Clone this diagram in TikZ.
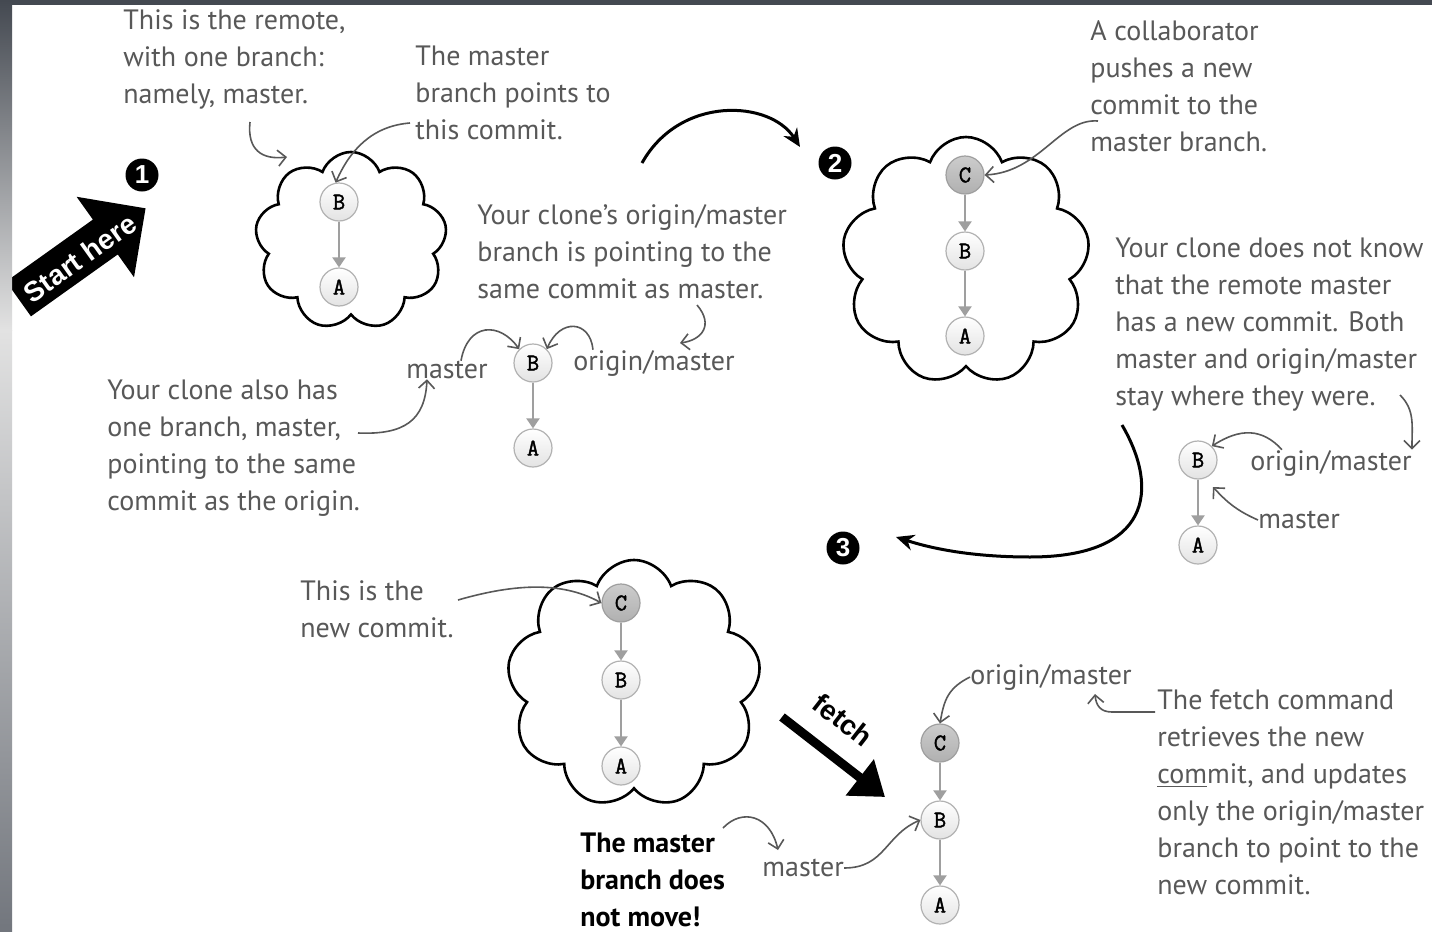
\documentclass[tikz,border=0pt]{standalone}
\usepackage{fontspec}
\setmainfont{PT Sans}
\newfontfamily\arrowfont{Liberation Sans}
\newfontfamily\commitfont{Latin Modern Mono}[FakeBold=1.6]
\usetikzlibrary{arrows.meta,shapes.symbols,shapes.arrows}

\definecolor{inkgray}{HTML}{585858}
\definecolor{framedark}{HTML}{444951}
\definecolor{framelight}{HTML}{E2E2E2}
\definecolor{framemid}{HTML}{72767D}

\begin{document}
\begin{tikzpicture}[x=0.5pt,y=0.5pt,
  note/.style={align=left, anchor=west, text=inkgray, inner sep=0pt, font=\fontsize{14}{18.5}\selectfont},
  branchname/.style={anchor=west, text=inkgray, inner sep=0pt, font=\fontsize{14}{18.5}\selectfont},
  commit/.style={circle, draw=gray!60, line width=0.6pt, top color=white, bottom color=gray!22, minimum size=19pt, inner sep=0pt, font=\commitfont\bfseries\fontsize{12}{12}\selectfont},
  newcommit/.style={commit, top color=gray!40, bottom color=gray!62, draw=gray!75},
  parent/.style={draw=gray!75, line width=1pt, -{Triangle[length=5pt,width=6.5pt]}},
  pointer/.style={draw=inkgray, line width=0.8pt, -{Straight Barb[length=4pt,width=8pt]}},
  bigcurve/.style={draw=black, line width=1.5pt, -{Stealth[length=9pt,width=8pt]}},
  badge/.style={circle, fill=black, text=white, inner sep=0pt, minimum size=16.5pt, font=\arrowfont\bfseries\fontsize{13}{13}\selectfont},
  remote/.style={cloud, draw=black, line width=1.3pt, cloud puffs=9, cloud puff arc=140, cloud ignores aspect, inner sep=0pt}]
\useasboundingbox (0,0) rectangle (1432,-932);
\fill[white] (0,0) rectangle (1432,-932);

% step 1
\node[single arrow, fill=black, inner sep=10.5pt, minimum height=78pt, single arrow head extend=14pt, rotate=35.5, anchor=tip] (startarrow) at (146,-208) {};
\node[rotate=35.5, text=white, font=\arrowfont\bfseries\fontsize{14}{14}\selectfont] (starttxt) at (80,-258) {Start here};
\node[badge] (step1) at (142,-175) {1};
\node[note] (remotetxt) at (123,-59) {This is the remote,\\with one branch:\\namely, master.};
\node[note] (mastertxt) at (415,-93) {The master\\branch points to\\this commit.};
\node[remote, minimum width=96pt, minimum height=89pt] (cloud1) at (351,-241) {};
\node[commit] (r1B) at (339,-202) {B};
\node[commit] (r1A) at (339,-287) {A};
\draw[parent] (r1B) -- (r1A);
\coordinate (remotefrom) at (250,-122);
\coordinate (remoteto) at (287,-157);
\draw[pointer] (remotefrom) .. controls (247,-150) and (262,-160) .. (remoteto);
\coordinate (masterfrom) at (410,-123);
\draw[pointer] (masterfrom) .. controls (372,-126) and (350,-150) .. (r1B.100);

\node[note] (clonetxt) at (477,-252) {Your clone's origin/master\\branch is pointing to the\\same commit as master.};
\node[commit] (c1B) at (533,-363) {B};
\node[commit] (c1A) at (533,-448) {A};
\draw[parent] (c1B) -- (c1A);
\node[branchname, anchor=center] (c1master) at (447,-370) {master};
\node[branchname] (c1origin) at (573,-363) {origin/master};
\draw[pointer] ([xshift=7pt]c1master.north) .. controls (468,-322) and (500,-322) .. (c1B.north west);
\draw[pointer] ([xshift=10pt]c1origin.north west) .. controls (590,-320) and (560,-318) .. (c1B.north east);
\coordinate (clonefrom) at (697,-305);
\coordinate (cloneto) at (680,-343);
\draw[pointer] (clonefrom) .. controls (714,-325) and (702,-340) .. (cloneto);
\node[note] (alsotxt) at (107,-448) {Your clone also has\\one branch, master,\\pointing to the same\\commit as the origin.};
\coordinate (alsofrom) at (358,-433);
\draw[pointer] (alsofrom) .. controls (405,-435) and (425,-420) .. ([xshift=-10pt]c1master.south);

\coordinate (go2from) at (642,-163);
\coordinate (go2to) at (800,-147);
\draw[bigcurve] (go2from) .. controls (680,-95) and (770,-100) .. (go2to);

% step 2
\node[badge] (step2) at (835,-163) {2};
\node[remote, minimum width=124pt, minimum height=124pt] (cloud2) at (966,-261) {};
\node[newcommit] (r2C) at (965,-175) {C};
\node[commit] (r2B) at (965,-251) {B};
\node[commit] (r2A) at (965,-336) {A};
\draw[parent] (r2C) -- (r2B);
\draw[parent] (r2B) -- (r2A);
\node[note] (collabtxt) at (1090,-86) {A collaborator\\pushes a new\\commit to the\\master branch.};
\coordinate (collabfrom) at (1098,-121);
\draw[pointer] (collabfrom) .. controls (1060,-118) and (1040,-172) .. (r2C.east);

\node[note] (unawaretxt) at (1115,-325) {Your clone does not know\\that the remote master\\has a new commit. Both\\master and origin/master\\stay where they were.};
\node[commit] (c2B) at (1198,-460) {B};
\node[commit] (c2A) at (1198,-545) {A};
\draw[parent] (c2B) -- (c2A);
\node[branchname] (c2origin) at (1250,-463) {origin/master};
\node[branchname] (c2master) at (1258,-520) {master};
\coordinate (unawarefrom) at (1400,-395);
\draw[pointer] (unawarefrom) .. controls (1415,-410) and (1412,-425) .. (c2origin.north east);
\draw[pointer] ([xshift=16pt]c2origin.north west) .. controls (1262,-428) and (1240,-428) .. (c2B.north east);
\coordinate (c2masterto) at (1213,-487);
\draw[pointer] (c2master.west) .. controls (1235,-510) and (1225,-500) .. (c2masterto);

\coordinate (go3from) at (1122,-425);
\coordinate (go3to) at (896,-537);
\draw[bigcurve] (go3from) .. controls (1160,-490) and (1150,-557) .. (1030,-557) .. controls (970,-557) and (930,-548) .. (go3to);

% step 3
\node[badge] (step3) at (843,-548) {3};
\node[remote, minimum width=127pt, minimum height=124pt] (cloud3) at (634,-684) {};
\node[newcommit] (r3C) at (621,-603) {C};
\node[commit] (r3B) at (621,-680) {B};
\node[commit] (r3A) at (621,-766) {A};
\draw[parent] (r3C) -- (r3B);
\draw[parent] (r3B) -- (r3A);
\node[note] (newtxt) at (300,-609) {This is the\\new commit.};
\coordinate (newfrom) at (458,-600);
\draw[pointer] (newfrom) .. controls (510,-585) and (560,-580) .. (r3C.west);

\coordinate (fetchfrom) at (782,-717);
\coordinate (fetchto) at (885,-797);
\draw[line width=4.5pt, -{Triangle[length=16pt,width=22pt]}] (fetchfrom) -- (fetchto);
\node[rotate=-38, font=\arrowfont\bfseries\fontsize{14}{14}\selectfont] (fetchlbl) at (843,-720) {fetch};

\node[newcommit] (c3C) at (940,-743) {C};
\node[commit] (c3B) at (940,-820) {B};
\node[commit] (c3A) at (940,-905) {A};
\draw[parent] (c3C) -- (c3B);
\draw[parent] (c3B) -- (c3A);
\node[branchname] (c3origin) at (970,-677) {origin/master};
\node[branchname] (c3master) at (762,-868) {master};
\draw[pointer] (c3origin.west) .. controls (948,-688) and (944,-700) .. (c3C.north);
\draw[pointer] (c3master.east) .. controls (885,-868) and (885,-835) .. (c3B.west);
\node[note] (fetchtxt) at (1157,-792) {The fetch command\\retrieves the new\\\underline{com}mit, and updates\\only the origin/master\\branch to point to the\\new commit.};
\coordinate (fetchtxtfrom) at (1155,-712);
\coordinate (fetchtxtto) at (1095,-694);
\draw[pointer] (fetchtxtfrom) -- (1112,-712) .. controls (1100,-712) and (1096,-705) .. (fetchtxtto);
\node[note, text=black, font=\bfseries\fontsize{14}{18.5}\selectfont] (staytxt) at (580,-880) {The master\\branch does\\not move!};
\coordinate (stayfrom) at (723,-828);
\coordinate (stayto) at (778,-850);
\draw[pointer] (stayfrom) .. controls (742,-808) and (770,-815) .. (stayto);

% frame
\fill[framedark] (0,0) rectangle (1432,-5);
\shade[top color=framedark, bottom color=framelight] (0,0) rectangle (12,-330);
\shade[top color=framelight, bottom color=framemid] (0,-330) rectangle (12,-932);
\end{tikzpicture}
\end{document}
